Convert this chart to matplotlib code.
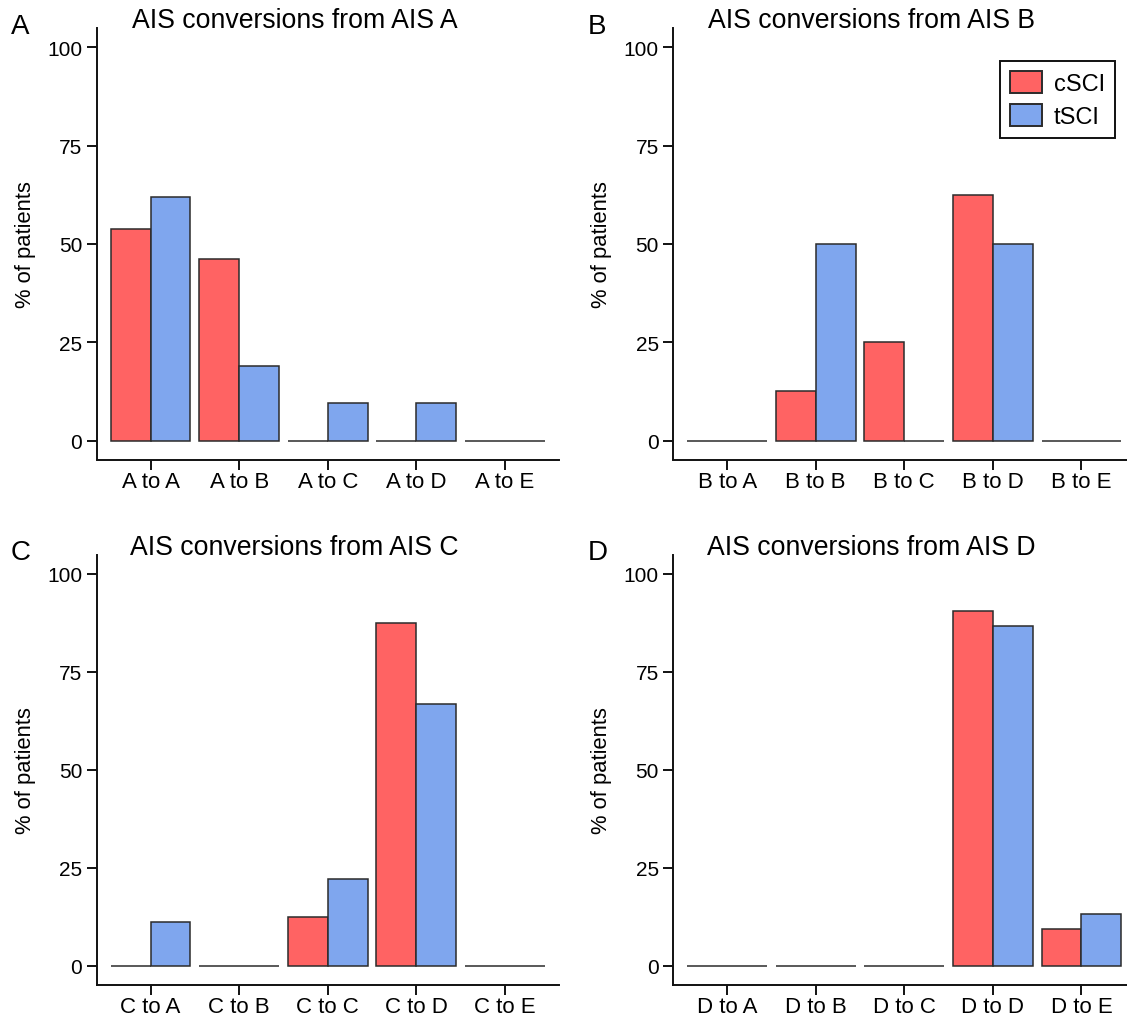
import numpy as np
import matplotlib
matplotlib.use("Agg")
import matplotlib.pyplot as plt
from matplotlib.patches import Patch

plt.rcParams["font.family"] = ["Liberation Sans", "DejaVu Sans"]

# AIS grades (start grade -> follow-up grade)
grades = ["A", "B", "C", "D", "E"]

# % of patients per conversion, cSCI vs tSCI
csci_from_a = [53.8, 46.2, 0, 0, 0]
tsci_from_a = [61.9, 19.0, 9.5, 9.5, 0]
csci_from_b = [0, 12.5, 25.0, 62.5, 0]
tsci_from_b = [0, 50.0, 0, 50.0, 0]
csci_from_c = [0, 0, 12.5, 87.5, 0]
tsci_from_c = [11.1, 0, 22.2, 66.7, 0]
csci_from_d = [0, 0, 0, 90.6, 9.4]
tsci_from_d = [0, 0, 0, 86.7, 13.3]

panels = [
    ("A", csci_from_a, tsci_from_a),
    ("B", csci_from_b, tsci_from_b),
    ("C", csci_from_c, tsci_from_c),
    ("D", csci_from_d, tsci_from_d),
]

red = "#ff6363"
blue = "#7fa6ee"
edge = "#2b2b2b"

W, H = 1127, 1020
fig = plt.figure(figsize=(W / 100, H / 100), dpi=100)

# panel boxes in pixels: left, top, width, height
ax_w = 462
boxes = [
    (96.7, 29.5, ax_w, 431.0),
    (673.3, 29.5, ax_w, 431.0),
    (96.7, 556.0, ax_w, 429.5),
    (673.3, 556.0, ax_w, 429.5),
]

bw = 0.45
x = np.arange(len(grades))

for (src, csci, tsci), (l, t, w, h) in zip(panels, boxes):
    ax = fig.add_axes([l / W, 1 - (t + h) / H, w / W, h / H])
    ax.bar(x - bw / 2, csci, width=bw, color=red, edgecolor=edge, linewidth=1.1)
    ax.bar(x + bw / 2, tsci, width=bw, color=blue, edgecolor=edge, linewidth=1.1)

    ax.set_xlim(-0.608, 4.608)
    ax.set_ylim(-4.8, 104.8)
    ax.set_yticks([0, 25, 50, 75, 100])
    ax.set_xticks(x)
    ax.set_xticklabels([f"{src} to {g}" for g in grades])

    for s in ["top", "right"]:
        ax.spines[s].set_visible(False)
    for s in ["left", "bottom"]:
        ax.spines[s].set_linewidth(1.4)
        ax.spines[s].set_color("#111111")
    ax.tick_params(axis="both", length=7.0, width=1.4, color="#111111")
    ax.tick_params(axis="y", labelsize=15, pad=3.5)
    ax.tick_params(axis="x", labelsize=16, pad=1.0)

    ax.set_ylabel("% of patients", fontsize=15.8)
    ax.yaxis.set_label_coords(-0.132, 0.5)

    fig.text((l + 197.8) / W, 1 - (t - 1) / H, f"AIS conversions from AIS {src}",
             ha="center", va="baseline", fontsize=19.2)
    fig.text((l - 86) / W, 1 - (t + 4) / H, src, ha="left", va="baseline",
             fontsize=20)

    if src == "B":
        handles = [Patch(facecolor=red, edgecolor=edge, linewidth=1.4, label="cSCI"),
                   Patch(facecolor=blue, edgecolor=edge, linewidth=1.4, label="tSCI")]
        leg = ax.legend(handles=handles, loc="upper right",
                        bbox_to_anchor=(1115 / W, 1 - 62.3 / H),
                        bbox_transform=fig.transFigure, fontsize=17,
                        handlelength=1.35, handleheight=1.06, labelspacing=0.35,
                        borderpad=0.42, handletextpad=0.5, borderaxespad=0,
                        fancybox=False, framealpha=1)
        leg.get_frame().set_edgecolor("#111111")
        leg.get_frame().set_linewidth(1.4)

fig.savefig("out.png", dpi=100)
